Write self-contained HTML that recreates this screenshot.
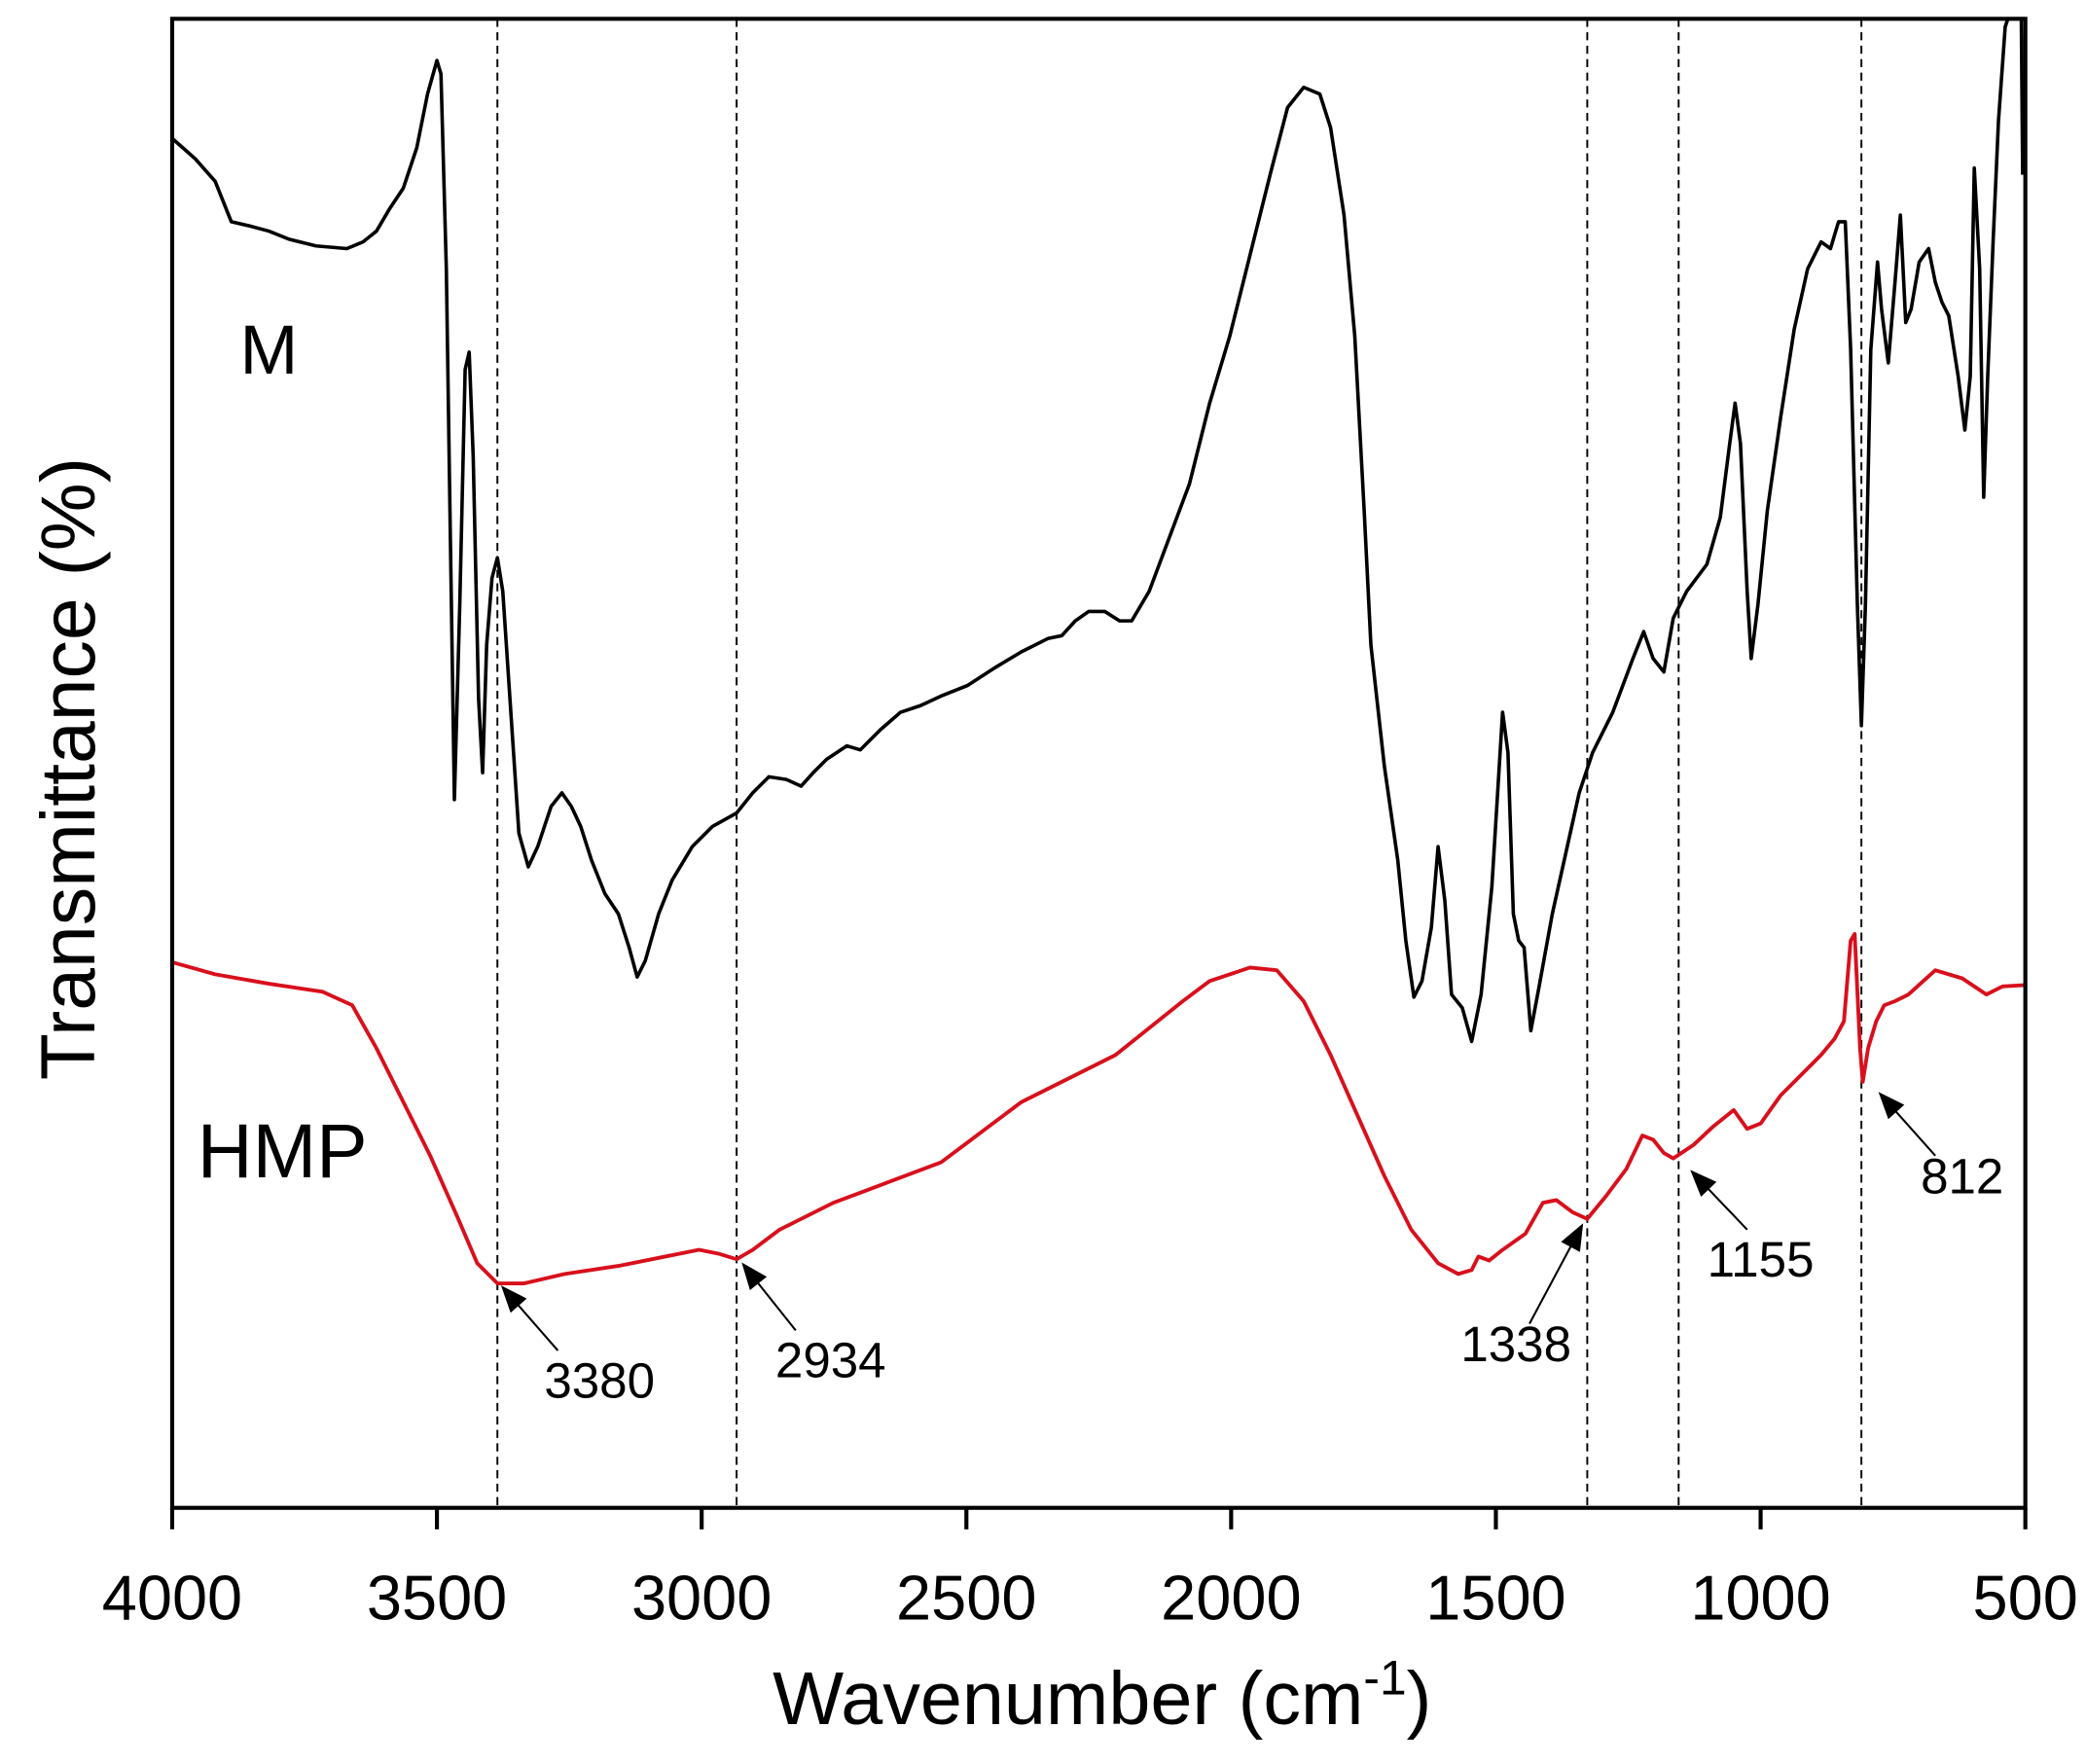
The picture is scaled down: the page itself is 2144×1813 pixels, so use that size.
<!DOCTYPE html>
<html><head><style>html,body{margin:0;padding:0;background:#fff}</style></head><body>
<svg width="2144" height="1808" viewBox="0 0 1552 1309" xmlns="http://www.w3.org/2000/svg" font-family="Liberation Sans, Arial, sans-serif">
<defs>
<marker id="ah2" viewBox="0 0 10 8" markerWidth="22" markerHeight="16" refX="9" refY="4" orient="auto" markerUnits="userSpaceOnUse"><path d="M0,0 L10,4 L0,8 Z" fill="#000"/></marker></defs>
<g stroke="#000" stroke-width="1.4" stroke-dasharray="6,4">
<line x1="370" y1="14" x2="370" y2="1122"/><line x1="548" y1="14" x2="548" y2="1122"/>
<line x1="1181" y1="14" x2="1181" y2="1122"/><line x1="1249" y1="14" x2="1249" y2="1122"/><line x1="1385" y1="14" x2="1385" y2="1122"/>
</g>
<polyline fill="none" stroke="#000" stroke-width="2.6" stroke-linejoin="round" points="128,103 145,118 160,135 172,165 185,168 200,172 215,178 235,183 258,185 270,180 280,172 290,155 300,140 310,110 318,70 325,45 328,55 332,200 335,400 338,595 342,450 346,275 349,262 352,340 356,520 359,575 362,480 366,430 370,415 374,440 380,530 386,620 393,645 400,630 410,600 418,590 425,600 432,615 440,640 450,665 460,680 468,705 474,727 480,715 490,680 500,655 515,630 530,615 548,605 560,590 572,578 585,580 596,585 605,575 615,565 630,555 640,558 655,543 670,530 685,525 700,518 720,510 740,497 760,485 780,475 790,473 800,462 810,455 822,455 833,462 842,462 855,440 870,400 885,360 900,300 915,250 930,190 945,130 958,80 970,65 982,70 990,95 1000,160 1008,250 1015,380 1020,480 1030,570 1040,640 1046,700 1052,742 1058,730 1065,690 1070,630 1075,670 1080,740 1088,750 1095,775 1102,740 1110,660 1118,530 1122,560 1126,680 1130,700 1134,705 1139,767 1145,735 1155,680 1165,635 1175,590 1185,560 1200,530 1215,490 1223,470 1230,490 1238,500 1245,460 1255,440 1270,420 1280,385 1287,330 1291,300 1295,330 1300,440 1303,490 1308,450 1315,380 1325,310 1335,245 1345,200 1355,180 1362,185 1368,165 1373,165 1377,260 1382,450 1385,540 1388,450 1392,260 1397,195 1400,230 1405,270 1410,210 1414,160 1418,240 1422,230 1428,195 1435,185 1440,210 1445,225 1450,235 1457,280 1462,320 1466,280 1469,125 1473,200 1476,370 1479,280 1483,180 1487,90 1492,20 1494,14 1504,14 1505,130"/>
<polyline fill="none" stroke="#d8101c" stroke-width="2.8" stroke-linejoin="round" points="128,716 160,725 200,732 240,738 262,748 280,780 300,820 320,860 340,905 355,940 370,955 390,955 420,948 460,942 495,935 520,930 535,933 548,937 560,930 580,915 620,895 660,880 700,865 720,850 760,820 800,800 830,785 855,765 880,745 900,730 930,720 950,722 970,745 990,785 1010,830 1030,875 1050,915 1070,940 1085,948 1095,945 1100,935 1108,938 1118,930 1135,918 1148,895 1158,893 1170,902 1181,907 1195,890 1210,870 1222,845 1230,848 1238,858 1245,862 1260,852 1275,838 1290,826 1300,840 1310,836 1325,815 1340,800 1355,785 1365,773 1372,760 1377,700 1380,695 1384,780 1386,805 1390,780 1396,760 1402,748 1410,745 1420,740 1440,722 1460,728 1478,740 1490,734 1507,733"/>
<rect x="128" y="14" width="1379" height="1108" fill="none" stroke="#000" stroke-width="3"/>
<g stroke="#000" stroke-width="3">
<line x1="128" y1="1122" x2="128" y2="1138"/><line x1="325" y1="1122" x2="325" y2="1138"/><line x1="522" y1="1122" x2="522" y2="1138"/><line x1="719" y1="1122" x2="719" y2="1138"/><line x1="916" y1="1122" x2="916" y2="1138"/><line x1="1113" y1="1122" x2="1113" y2="1138"/><line x1="1310" y1="1122" x2="1310" y2="1138"/><line x1="1507" y1="1122" x2="1507" y2="1138"/>
</g>
<g font-size="47" text-anchor="middle" fill="#000">
<text x="128" y="1205">4000</text><text x="325" y="1205">3500</text><text x="522" y="1205">3000</text><text x="719" y="1205">2500</text><text x="916" y="1205">2000</text><text x="1113" y="1205">1500</text><text x="1310" y="1205">1000</text><text x="1507" y="1205">500</text>
</g>
<text x="820" y="1283" font-size="56" text-anchor="middle">Wavenumber (cm<tspan dy="-22" font-size="36">-1</tspan><tspan dy="22">)</tspan></text>
<text transform="translate(70,572) rotate(-90)" font-size="57" text-anchor="middle">Transmittance (%)</text>
<text x="200" y="278" font-size="52" text-anchor="middle">M</text>
<text x="210" y="876" font-size="57" text-anchor="middle">HMP</text>
<g font-size="37" text-anchor="middle">
<text x="446" y="1040">3380</text><text x="618" y="1025">2934</text><text x="1128" y="1013">1338</text><text x="1310" y="950">1155</text><text x="1460" y="888">812</text>
</g>
<g stroke="#000" stroke-width="1.5" marker-end="url(#ah2)">
<line x1="415" y1="1005" x2="374" y2="958"/><line x1="592" y1="990" x2="553" y2="941"/><line x1="1138" y1="985" x2="1177" y2="912"/><line x1="1300" y1="915" x2="1259" y2="872"/><line x1="1440" y1="860" x2="1399" y2="814"/>
</g>
</svg>
</body></html>
